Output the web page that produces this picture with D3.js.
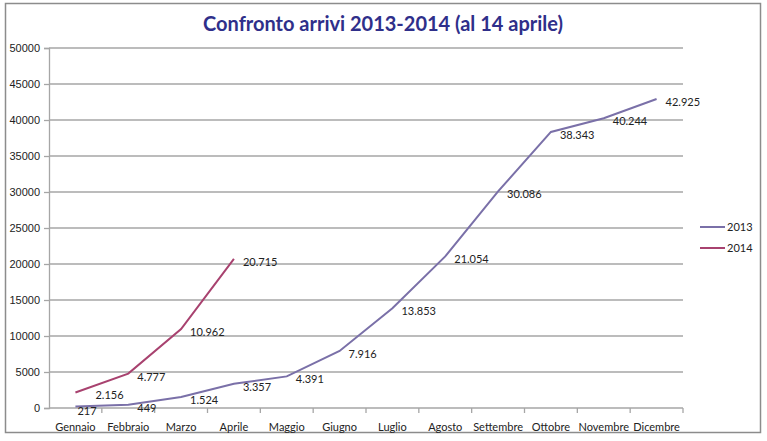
<!DOCTYPE html>
<html>
<head>
<meta charset="utf-8">
<script src="https://cdn.jsdelivr.net/npm/d3@7"></script>
<style>
  html, body { margin: 0; padding: 0; background: #fff; }
  svg { display: block; font-family: Lato, "Open Sans", sans-serif; }
</style>
</head>
<body>
<svg id="chart" width="767" height="441"></svg>
<script>
const MONTHS = ['Gennaio','Febbraio','Marzo','Aprile','Maggio','Giugno',
  'Luglio','Agosto','Settembre','Ottobre','Novembre','Dicembre'];
const ARRIVI_2013 = [217, 449, 1524, 3357, 4391, 7916, 13853, 21054, 30086, 38343, 40244, 42925];
const ARRIVI_2014 = [2156, 4777, 10962, 20715];
const Y_TICKS = [0, 5000, 10000, 15000, 20000, 25000, 30000, 35000, 40000, 45000, 50000];

const SERIES = [
  { name: '2013', values: ARRIVI_2013, color: '#7a70a8' },
  { name: '2014', values: ARRIVI_2014, color: '#a8426f' },
];

// label nudges (px) where Excel put them off the default spot
const LABEL_NUDGE = { '2013-0': [-7, 2], '2014-0': [11, 0] };

const fmt = v => d3.format(',')(v).replace(/,/g, '.');

const svg = d3.select('#chart');
const margin = { left: 49, right: 84, top: 48, bottom: 33 };
const W = 767, H = 441;

// frame
svg.append('rect')
  .attr('x', 5.5).attr('y', 3.5).attr('width', 755).attr('height', 429)
  .attr('fill', '#fff').attr('stroke', '#8c8c8c').attr('stroke-width', 1.5);

svg.append('text')
  .attr('x', 383).attr('y', 31)
  .attr('text-anchor', 'middle')
  .attr('font-size', 20).attr('font-weight', 700)
  .attr('fill', '#2f2f8a')
  .text('Confronto arrivi 2013-2014 (al 14 aprile)');

const x = d3.scaleBand().domain(MONTHS).range([margin.left, W - margin.right]);
const y = d3.scaleLinear().domain([0, 50000]).range([H - margin.bottom, margin.top]);

// gridlines
svg.append('g').selectAll('line').data(Y_TICKS.filter(t => t > 0)).join('line')
  .attr('x1', margin.left).attr('x2', W - margin.right)
  .attr('y1', d => y(d)).attr('y2', d => y(d))
  .attr('stroke', '#a6a6a6').attr('stroke-width', 1.3);

// y axis
const yAxis = svg.append('g')
  .attr('transform', `translate(${margin.left},0)`)
  .call(d3.axisLeft(y).tickValues(Y_TICKS).tickSize(5).tickPadding(4).tickFormat(d => d));
yAxis.selectAll('text').attr('font-size', 11).attr('fill', '#222');
yAxis.selectAll('.domain, line').attr('stroke', '#a6a6a6').attr('stroke-width', 1.3);

// x axis: ticks at category boundaries
const xAxis = svg.append('g').attr('transform', `translate(0,${y(0)})`);
xAxis.append('line')
  .attr('x1', margin.left).attr('x2', W - margin.right)
  .attr('stroke', '#a6a6a6').attr('stroke-width', 1.3);
xAxis.selectAll('line.tick').data(MONTHS).join('line')
  .attr('class', 'tick')
  .attr('x1', d => x(d) + x.bandwidth()).attr('x2', d => x(d) + x.bandwidth())
  .attr('y1', 0).attr('y2', 5)
  .attr('stroke', '#a6a6a6').attr('stroke-width', 1.3);
xAxis.selectAll('text').data(MONTHS).join('text')
  .attr('x', d => x(d) + x.bandwidth() / 2)
  .attr('y', 23)
  .attr('text-anchor', 'middle')
  .attr('font-size', 11).attr('fill', '#222')
  .text(d => d);

const line = d3.line()
  .x((d, i) => x(MONTHS[i]) + x.bandwidth() / 2)
  .y(d => y(d));

for (const s of SERIES) {
  svg.append('path')
    .datum(s.values)
    .attr('fill', 'none')
    .attr('stroke', s.color)
    .attr('stroke-width', 2)
    .attr('d', line);

  svg.append('g').selectAll('text').data(s.values).join('text')
    .attr('x', (d, i) => x(MONTHS[i]) + x.bandwidth() / 2 + 9 + (LABEL_NUDGE[`${s.name}-${i}`]?.[0] || 0))
    .attr('y', (d, i) => y(d) + 7 + (LABEL_NUDGE[`${s.name}-${i}`]?.[1] || 0))
    .attr('font-size', 11).attr('fill', '#222')
    .text(d => fmt(d));
}

// legend
const legend = svg.append('g').attr('transform', 'translate(700,227)');
SERIES.forEach((s, i) => {
  const g = legend.append('g').attr('transform', `translate(0,${i * 21})`);
  g.append('line').attr('x1', 0).attr('x2', 25)
    .attr('stroke', s.color).attr('stroke-width', 2);
  g.append('text').attr('x', 27).attr('y', 4)
    .attr('font-size', 11).attr('fill', '#222').text(s.name);
});
</script>
</body>
</html>
